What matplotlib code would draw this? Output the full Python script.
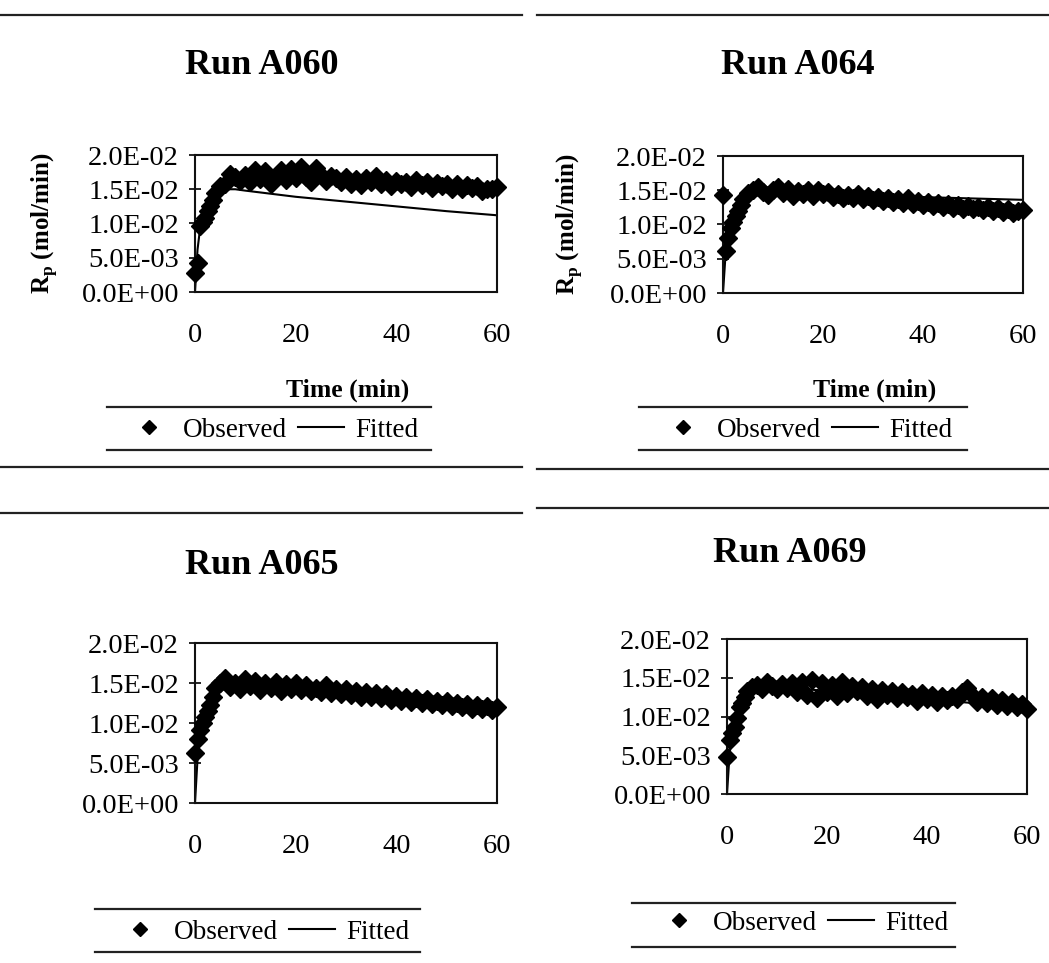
import matplotlib
matplotlib.use("Agg")
import matplotlib.pyplot as plt
from matplotlib.lines import Line2D
from matplotlib.ticker import FuncFormatter

plt.rcParams['font.family'] = ['Liberation Serif', 'DejaVu Serif']
plt.rcParams['mathtext.fontset'] = 'custom'
plt.rcParams['mathtext.rm'] = 'Liberation Serif'
plt.rcParams['mathtext.bf'] = 'Liberation Serif:bold'

# observed sampling times (min)
t_obs = [0, 0.5, 1, 1.5, 2, 2.5, 3, 3.5, 4, 5, 6, 7, 8, 9, 10, 11, 12, 13, 14, 15,
         16, 17, 18, 19, 20, 21, 22, 23, 24, 25, 26, 27, 28, 29, 30, 31, 32, 33, 34, 35,
         36, 37, 38, 39, 40, 41, 42, 43, 44, 45, 46, 47, 48, 49, 50, 51, 52, 53, 54, 55,
         56, 57, 58, 59, 60]

# fitted curve times (min)
t_fit = [0, 0.5, 1, 2, 3, 4, 5, 6, 7, 8, 10, 20, 30, 40, 50, 60]

obs_a060 = [0.0028, 0.0043, 0.0096, 0.0102, 0.0108, 0.0118, 0.0126, 0.0135, 0.0145, 0.0155,
            0.0158, 0.0172, 0.0168, 0.0162, 0.0171, 0.0160, 0.0178, 0.0165, 0.0176, 0.0158,
            0.0170, 0.0178, 0.0163, 0.0180, 0.0166, 0.0182, 0.0168, 0.0160, 0.0181, 0.0171,
            0.0162, 0.0170, 0.0166, 0.0161, 0.0168, 0.0158, 0.0165, 0.0156, 0.0167, 0.0160,
            0.0169, 0.0157, 0.0163, 0.0155, 0.0162, 0.0157, 0.0161, 0.0154, 0.0163, 0.0156,
            0.0160, 0.0152, 0.0159, 0.0155, 0.0158, 0.0151, 0.0157, 0.0150, 0.0156, 0.0152,
            0.0155, 0.0148, 0.0151, 0.0150, 0.0153]
fit_a060 = [0.0, 0.0062, 0.0092, 0.0118, 0.0133, 0.0142, 0.0147, 0.0149, 0.0150, 0.0150,
            0.0148, 0.0139, 0.0132, 0.0125, 0.0118, 0.0112]

obs_a064 = [0.0143, 0.0062, 0.0080, 0.0095, 0.0104, 0.0112, 0.0120, 0.0128, 0.0137, 0.0146,
            0.0150, 0.0155, 0.0148, 0.0143, 0.0150, 0.0155, 0.0146, 0.0152, 0.0142, 0.0149,
            0.0145, 0.0151, 0.0142, 0.0150, 0.0144, 0.0147, 0.0140, 0.0145, 0.0139, 0.0143,
            0.0138, 0.0145, 0.0137, 0.0141, 0.0136, 0.0140, 0.0134, 0.0139, 0.0133, 0.0137,
            0.0132, 0.0138, 0.0130, 0.0135, 0.0129, 0.0133, 0.0127, 0.0131, 0.0126, 0.0130,
            0.0124, 0.0129, 0.0123, 0.0127, 0.0122, 0.0126, 0.0121, 0.0125, 0.0119, 0.0124,
            0.0118, 0.0123, 0.0117, 0.0120, 0.0121]
fit_a064 = [0.0, 0.0055, 0.0085, 0.0113, 0.0128, 0.0138, 0.0144, 0.0147, 0.0148, 0.0148,
            0.0147, 0.0145, 0.0142, 0.0140, 0.0138, 0.0136]

obs_a065 = [0.0062, 0.0080, 0.0091, 0.0100, 0.0108, 0.0115, 0.0123, 0.0132, 0.0144, 0.0150,
            0.0156, 0.0145, 0.0150, 0.0142, 0.0155, 0.0146, 0.0153, 0.0141, 0.0150, 0.0144,
            0.0151, 0.0140, 0.0149, 0.0143, 0.0150, 0.0141, 0.0147, 0.0140, 0.0144, 0.0139,
            0.0147, 0.0137, 0.0143, 0.0136, 0.0142, 0.0135, 0.0140, 0.0133, 0.0139, 0.0132,
            0.0138, 0.0131, 0.0136, 0.0129, 0.0134, 0.0128, 0.0132, 0.0126, 0.0131, 0.0125,
            0.0130, 0.0124, 0.0128, 0.0122, 0.0127, 0.0121, 0.0125, 0.0120, 0.0124, 0.0118,
            0.0123, 0.0117, 0.0121, 0.0116, 0.0120]
fit_a065 = [0.0, 0.0055, 0.0085, 0.0112, 0.0127, 0.0136, 0.0141, 0.0143, 0.0144, 0.0144,
            0.0143, 0.0139, 0.0134, 0.0129, 0.0124, 0.0119]

obs_a069 = [0.0048, 0.0070, 0.0079, 0.0086, 0.0098, 0.0112, 0.0118, 0.0125, 0.0133, 0.0138,
            0.0141, 0.0136, 0.0144, 0.0139, 0.0135, 0.0142, 0.0137, 0.0143, 0.0132, 0.0145,
            0.0128, 0.0147, 0.0124, 0.0143, 0.0131, 0.0141, 0.0126, 0.0144, 0.0130, 0.0140,
            0.0133, 0.0138, 0.0127, 0.0136, 0.0122, 0.0134, 0.0128, 0.0133, 0.0124, 0.0131,
            0.0125, 0.0129, 0.0120, 0.0130, 0.0122, 0.0128, 0.0119, 0.0127, 0.0121, 0.0126,
            0.0123, 0.0131, 0.0137, 0.0128, 0.0119, 0.0125, 0.0117, 0.0124, 0.0115, 0.0121,
            0.0114, 0.0119, 0.0112, 0.0116, 0.0110]
fit_a069 = [0.0, 0.0050, 0.0078, 0.0105, 0.0120, 0.0130, 0.0135, 0.0138, 0.0139, 0.0139,
            0.0138, 0.0133, 0.0128, 0.0122, 0.0117, 0.0112]

titles = ['Run A060', 'Run A064', 'Run A065', 'Run A069']
y_ticks = [0.0, 0.005, 0.010, 0.015, 0.020]
x_ticks = [0, 20, 40, 60]

W, H = 1049, 963
fig = plt.figure(figsize=(W / 100, H / 100), dpi=100)


def fx(px):
    return px / W


def fy(py):
    return 1 - py / H


def hline(x0, x1, y):
    fig.add_artist(Line2D([fx(x0), fx(x1)], [fy(y), fy(y)], transform=fig.transFigure,
                          color='#222222', lw=1.6))


# panel layout in pixels: (left, top, right, bottom)
boxes = [(195, 155, 497, 292), (723, 156, 1023, 293),
         (195, 643, 497, 803), (727, 639, 1027, 794)]
title_pos = [(262, 66), (798, 66), (262, 565), (790, 553)]
legend_pos = [(272, 430), (806, 430), (263, 932), (802, 923)]
legend_lines = [(107, 431, 407, 450), (639, 967, 407, 450),
                (95, 420, 909, 952), (632, 955, 903, 947)]
ylabel_x = [-0.447, -0.46]
observed = [obs_a060, obs_a064, obs_a065, obs_a069]
fitted = [fit_a060, fit_a064, fit_a065, fit_a069]

for i in range(4):
    l, t, r, b = boxes[i]
    ax = fig.add_axes([fx(l), fy(b), (r - l) / W, (b - t) / H])
    obs, = ax.plot(t_obs, observed[i], linestyle='none', marker='D', markersize=9.5,
                   color='black', clip_on=False, zorder=3)
    fit, = ax.plot(t_fit, fitted[i], color='black', lw=1.5, zorder=2)
    ax.set_xlim(0, 60)
    ax.set_ylim(0, 0.02)
    ax.set_xticks(x_ticks)
    ax.set_yticks(y_ticks)
    ax.yaxis.set_major_formatter(FuncFormatter(lambda v, p: f'{v:.1E}'))
    ax.tick_params(axis='y', direction='inout', length=9, width=1.2, labelsize=20.5, pad=7)
    ax.tick_params(axis='x', length=0, labelsize=20.5, pad=22)
    for s in ax.spines.values():
        s.set_linewidth(1.5)
        s.set_color('#111111')

    if i < 2:
        ax.set_ylabel(r'R$_\mathbf{p}$ (mol/min)', fontsize=18, fontweight='bold')
        ax.yaxis.set_label_coords(ylabel_x[i], 0.5)
        fig.text(fx((l + r) / 2 + 2), fy(390), 'Time (min)', fontsize=18.5,
                 fontweight='bold', ha='center', va='center')

    tx, ty = title_pos[i]
    fig.text(fx(tx), fy(ty), titles[i], fontsize=26, fontweight='bold',
             ha='center', va='center')

    lx, ly = legend_pos[i]
    fig.legend([obs, fit], ['Observed', 'Fitted'], loc='center',
               bbox_to_anchor=(fx(lx), fy(ly)), ncol=2, frameon=False, fontsize=19.5,
               handlelength=1.7, handletextpad=0.4, columnspacing=0.4, numpoints=1,
               markerscale=0.7)
    x0, x1, y0, y1 = legend_lines[i]
    hline(x0, x1, y0)
    hline(x0, x1, y1)

# chart area borders
hline(0, 522, 15)
hline(537, 1049, 15)
hline(0, 522, 467)
hline(537, 1049, 469)
hline(0, 522, 513)
hline(537, 1049, 508)

fig.savefig('out.png', dpi=100)
